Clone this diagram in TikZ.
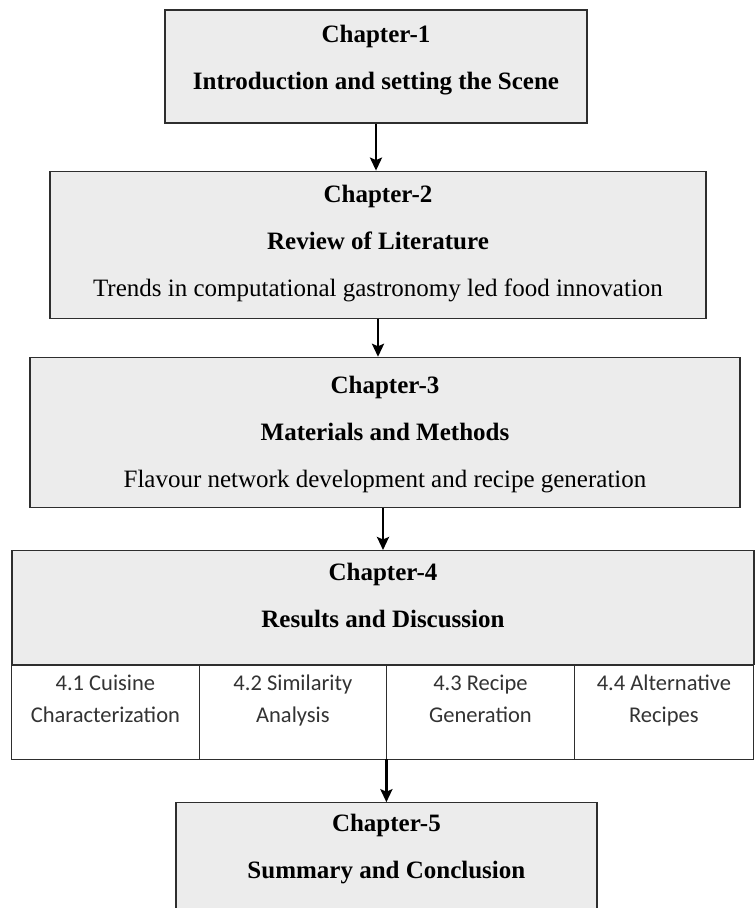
\documentclass[tikz,border=0pt]{standalone}
\usepackage{fontspec}
\setmainfont{Liberation Serif}
\newfontfamily\cellfont{Carlito}
\usetikzlibrary{arrows.meta,positioning}
\definecolor{boxgrey}{HTML}{ECECEC}
\definecolor{edgegrey}{HTML}{2E2E2E}

\begin{document}
\begin{tikzpicture}[
    x=1pt, y=-1pt,
    chapter/.style={rectangle, draw=edgegrey, fill=boxgrey, line width=1.2pt, inner sep=0pt},
    cell/.style={rectangle, draw=edgegrey, fill=white, line width=1.2pt, inner sep=0pt, outer sep=0pt, minimum height=94pt},
    heading/.style={inner sep=0pt, align=center, font=\fontsize{25}{47}\selectfont},
    celltext/.style={inner sep=0pt, align=center, anchor=north, text=black!80, font=\cellfont\fontsize{22.5}{32}\selectfont},
    arrow/.style={-{Stealth[length=13pt,width=12pt,inset=2.5pt]}, line width=2.6pt}
]
\useasboundingbox (0,0) rectangle (755,908);
\clip (0,0) rectangle (755,908);

% Chapter 1
\node[chapter, minimum width=422pt, minimum height=113pt] (ch1) at (376,66.5) {};
\node[heading, below=16pt of ch1.north] (ch1text) {\textbf{Chapter-1}\\\textbf{Introduction and setting the Scene}};

% Chapter 2
\node[chapter, minimum width=656pt, minimum height=147pt, below=47pt of ch1, xshift=2pt] (ch2) {};
\node[heading, below=14pt of ch2.north] (ch2text) {\textbf{Chapter-2}\\\textbf{Review of Literature}\\Trends in computational gastronomy led food innovation};

% Chapter 3
\node[chapter, minimum width=710pt, minimum height=150pt, below=38pt of ch2, xshift=7pt] (ch3) {};
\node[heading, below=19pt of ch3.north] (ch3text) {\textbf{Chapter-3}\\\textbf{Materials and Methods}\\Flavour network development and recipe generation};

% Chapter 4 with its four sections
\node[chapter, minimum width=742pt, minimum height=114pt, below=42pt of ch3, xshift=-2pt] (ch4) {};
\node[heading, below=13pt of ch4.north] (ch4text) {\textbf{Chapter-4}\\\textbf{Results and Discussion}};

\node[cell, minimum width=188pt, anchor=north west] (c1) at (ch4.south west) {};
\node[cell, minimum width=187pt, right=0pt of c1] (c2) {};
\node[cell, minimum width=188pt, right=0pt of c2] (c3) {};
\node[cell, minimum width=179pt, right=0pt of c3] (c4) {};

\node[celltext, below=3pt of c1.north] (c1text) {\strut 4.1 Cuisine\\\strut Characterization};
\node[celltext, below=3pt of c2.north] (c2text) {\strut 4.2 Similarity\\\strut Analysis};
\node[celltext, below=3pt of c3.north] (c3text) {\strut 4.3 Recipe\\\strut Generation};
\node[celltext, below=3pt of c4.north] (c4text) {\strut 4.4 Alternative\\\strut Recipes};

% Chapter 5
\node[chapter, minimum width=421pt, minimum height=132pt, below=43pt of c2.south east] (ch5) {};
\node[heading, below=12pt of ch5.north] (ch5text) {\textbf{Chapter-5}\\\textbf{Summary and Conclusion}};

% Arrows
\draw[arrow] (ch1.south) -- (ch1.south |- ch2.north);
\draw[arrow] (ch2.south) -- (ch2.south |- ch3.north);
\draw[arrow] (ch3.south -| ch4.north) -- (ch4.north);
\draw[arrow] (c2.south east) -- (c2.south east |- ch5.north);

\end{tikzpicture}
\end{document}
